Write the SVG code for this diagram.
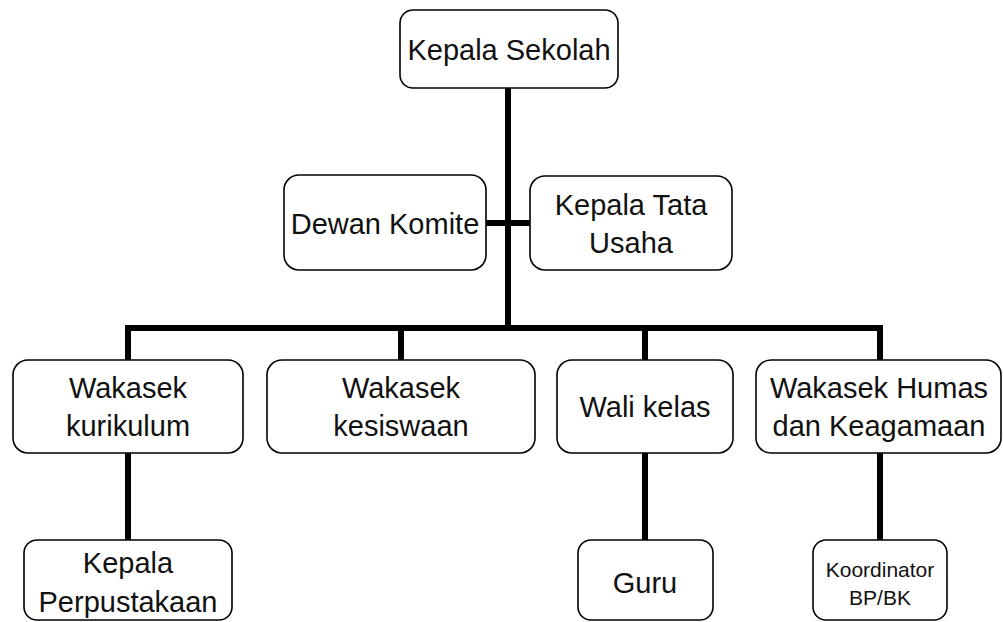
<svg xmlns="http://www.w3.org/2000/svg" width="1003" height="622" viewBox="0 0 1003 622">
<style>
.box{fill:#fff;stroke:#000;stroke-width:1.6}
.t{font-family:"Liberation Sans",Arial,sans-serif;font-size:29px;fill:#111;text-anchor:middle}
.s{font-size:21px}
.c{stroke:#000;stroke-width:6;fill:none;stroke-linecap:butt}
</style>
<rect width="1003" height="622" fill="#fff"/>
<g id="connectors">
<line class="c" x1="508" y1="88" x2="508" y2="331"/>
<line class="c" x1="486" y1="223" x2="530" y2="223"/>
<polyline class="c" points="128,360 128,328 880,328 880,360"/>
<line class="c" x1="401" y1="328" x2="401" y2="360"/>
<line class="c" x1="645" y1="328" x2="645" y2="360"/>
<line class="c" x1="128" y1="453" x2="128" y2="540"/>
<line class="c" x1="645" y1="453" x2="645" y2="540"/>
<line class="c" x1="880" y1="453" x2="880" y2="540"/>
</g>
<g id="kepala-sekolah"><rect class="box" x="400" y="10" width="218" height="78" rx="13"/><text class="t" x="509" y="60">Kepala Sekolah</text></g>
<g id="dewan-komite"><rect class="box" x="284" y="175" width="202" height="95" rx="15"/><text class="t" x="385" y="234">Dewan Komite</text></g>
<g id="kepala-tata-usaha"><rect class="box" x="530" y="176" width="202" height="94" rx="15"/><text class="t" x="631" y="215">Kepala Tata</text><text class="t" x="631" y="253">Usaha</text></g>
<g id="wakasek-kurikulum"><rect class="box" x="13" y="360" width="230" height="93" rx="15"/><text class="t" x="128" y="398">Wakasek</text><text class="t" x="128" y="436">kurikulum</text></g>
<g id="wakasek-kesiswaan"><rect class="box" x="267" y="360" width="268" height="93" rx="15"/><text class="t" x="401" y="398">Wakasek</text><text class="t" x="401" y="436">kesiswaan</text></g>
<g id="wali-kelas"><rect class="box" x="557" y="360" width="176" height="93" rx="15"/><text class="t" x="645" y="417">Wali kelas</text></g>
<g id="wakasek-humas"><rect class="box" x="756" y="360" width="245" height="93" rx="15"/><text class="t" x="879" y="398">Wakasek Humas</text><text class="t" x="879" y="436">dan Keagamaan</text></g>
<g id="kepala-perpustakaan"><rect class="box" x="24" y="540" width="208" height="80" rx="13"/><text class="t" x="128" y="573">Kepala</text><text class="t" x="128" y="612">Perpustakaan</text></g>
<g id="guru"><rect class="box" x="578" y="540" width="135" height="80" rx="13"/><text class="t" x="645" y="593">Guru</text></g>
<g id="koordinator"><rect class="box" x="813" y="540" width="134" height="80" rx="13"/><text class="t s" x="880" y="577">Koordinator</text><text class="t s" x="880" y="605">BP/BK</text></g>
</svg>
